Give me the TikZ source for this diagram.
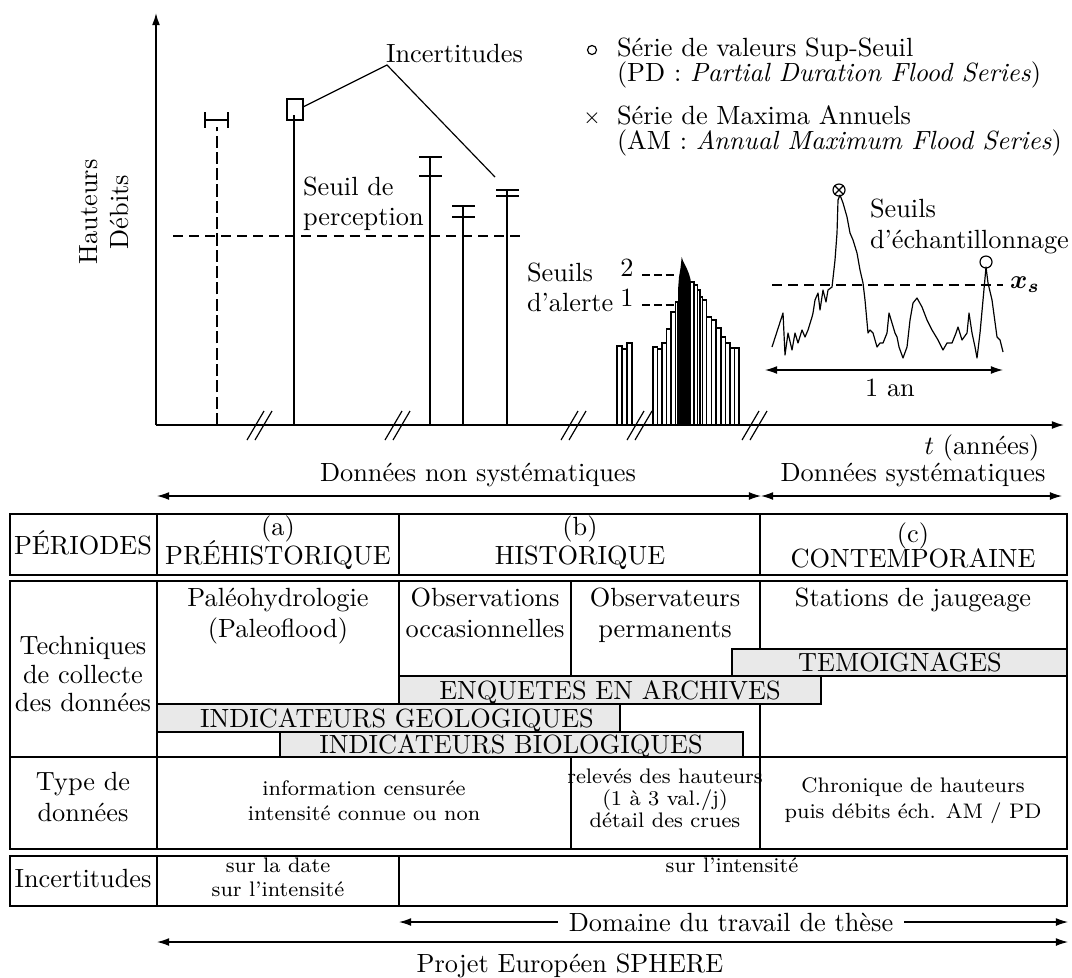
\documentclass[tikz,border=0pt]{standalone}
\usepackage{fontspec}
\usepackage{bm}
\usetikzlibrary{arrows.meta}
\begin{document}
\begin{tikzpicture}[x=0.38pt,y=-0.38pt,
  every node/.style={inner sep=0pt, outer sep=0pt},
  txt/.style={font=\fontsize{10}{12}\selectfont},
  leg/.style={font=\fontsize{10}{12}\selectfont},
  sml/.style={font=\fontsize{8}{9.5}\selectfont},
  ln/.style={line width=0.45pt},
  axis/.style={line width=0.55pt},
  perc/.style={line width=0.45pt, dash pattern=on 3.8pt off 2.3pt},
  vdash/.style={line width=0.45pt, dash pattern=on 4.6pt off 1.6pt},
  alert/.style={line width=0.45pt, dash pattern=on 3pt off 1.5pt},
  tip/.style={-{Latex[length=4.6pt,width=3pt]}},
  dtip/.style={{Latex[length=4.6pt,width=3pt]}-{Latex[length=4.6pt,width=3pt]}},
  bar/.style={draw, fill=white, line width=0.4pt},
  band/.style={draw, fill=gray!17, line width=0.5pt},
  bandlabel/.style={font=\fontsize{10}{12}\selectfont, text height=6.83pt, text depth=0pt},
  cell/.style={draw, line width=0.55pt},
  brk/.style={line width=0.45pt},
]
\useasboundingbox (0,0) rectangle (1072,977);

% ---------- alert bars ----------
\foreach \a/\b/\t in {617/622/346,622/627/349,627/632/343,
  653/657.5/347,657.5/662/349,662/666.5/343,666.5/671/329,671/675.5/312,675.5/678/302,
  690.7/694/282,694/697.3/285,697.3/700/290,700/702.7/297,702.7/706.7/300,706.7/711.7/317,
  711.7/716/320,716/721/328,721/725.3/337,725.3/730/343,730/734.7/348,734.7/739/348}
  \draw[bar] (\a,425) rectangle (\b,\t);
\fill (678,425) -- (678,290) -- (679,277) -- (680.5,268) -- (681.7,257) -- (683,261) -- (685,265)
  -- (687,269) -- (689,274) -- (690.7,280) -- (690.7,425) -- cycle;

% ---------- axes ----------
\coordinate (O) at (156,425);
\coordinate (ytop) at (156,13);
\coordinate (xend) at (1064,425);
\draw[axis,tip] (O) -- (ytop);
\draw[axis,tip] (O) -- (xend);
\foreach \c in {260,398,574,640,755} {
  \draw[brk] (\c-13,440) -- (\c+4,411);
  \draw[brk] (\c-5,440) -- (\c+12,411);
}
\node[txt,anchor=base,rotate=90] (yl1) at (97,212) {Hauteurs};
\node[txt,anchor=base,rotate=90] (yl2) at (128,212) {Débits};
\node[txt,anchor=base] (xl) at (982,454) {$t$ (années)};

% ---------- paleo / historical events ----------
\draw[vdash] (217,425) -- (217,127);
\draw[ln] (205,120) -- (228,120) (205,112) -- (205,128) (228,112) -- (228,128);
\draw[ln] (294,425) -- (294,115);
\draw[ln] (287,99) rectangle (303,120);
\draw[ln] (430,425) -- (430,157) (419,157) -- (442,157) (419,176) -- (442,176);
\draw[ln] (463,425) -- (463,206) (452,206) -- (475,206) (452,217) -- (475,217);
\draw[ln] (507,425) -- (507,190) (496,190) -- (519,190) (496,196) -- (519,196);
\draw[perc] (173,236) -- (525,236);
\node[txt,anchor=base west] (sp1) at (303,195) {Seuil de};
\node[txt,anchor=base west] (sp2) at (303,225) {perception};
\node[txt,anchor=base west] (inc) at (386,62) {Incertitudes};
\coordinate (j) at (387,65);
\coordinate (boxr) at (303,107);
\coordinate (capr) at (495,177);
\draw[ln] (boxr) -- (j) -- (capr);

% ---------- alert thresholds ----------
\node[txt,anchor=base west] (sa1) at (527,281) {Seuils};
\node[txt,anchor=base west] (sa2) at (527,311) {d'alerte};
\node[txt,anchor=base] (n2) at (627,276) {2};
\node[txt,anchor=base] (n1) at (627,306) {1};
\draw[alert] (642,275) -- (677,275);
\draw[alert] (642,305) -- (675,305);

% ---------- legend ----------
\draw[ln] (592,50) circle[radius=4.5];
\node[anchor=base] (cross) at (592,123) {\fontsize{8}{9}\selectfont$\times$};
\node[leg,anchor=base west] (l1) at (617,56) {Série de valeurs Sup-Seuil};
\node[leg,anchor=base west] (l2) at (617,81) {(PD : \textit{Partial Duration Flood Series})};
\node[leg,anchor=base west] (l3) at (617,124) {Série de Maxima Annuels};
\node[leg,anchor=base west] (l4) at (617,149) {(AM : \textit{Annual Maximum Flood Series})};

% ---------- hydrograph ----------
\draw[ln,line join=round] plot coordinates {
(772,347) (783,313) (785,355) (788,333) (792,350) (795,333) (798,343) (802,330) (805,337) (808,330)
(812,317) (813,313) (815,300) (818,293) (820,310) (823,290) (826,302) (828,290) (832,287) (835,260)
(837,233) (838,200) (840,195) (843,203) (847,217) (850,233) (853,240) (857,253) (860,270) (863,283)
(865,300) (868,333) (870,330) (873,333) (877,347) (880,343) (883,343) (887,333) (889,313) (892,323)
(895,333) (897,337) (899,347) (903,358) (907,347) (910,320) (913,303) (917,298) (922,307) (927,320)
(932,330) (938,340) (943,350) (947,343) (952,343) (956,333) (958,327) (962,340) (967,333) (969,313)
(972,333) (975,347) (977,358) (980,333) (983,300) (986,267) (988,283) (992,300) (997,337) (1000,340)
(1003,352)};
\draw[perc] (772,285) -- (1003,285);
\draw[ln] (839,190) circle[radius=6];
\draw[ln] (834.8,185.8) -- (843.2,194.2) (834.8,194.2) -- (843.2,185.8);
\draw[ln] (986,262) circle[radius=6];
\node[txt] (xs) at (1025,285) {$\bm{x_s}$};
\node[txt,anchor=base west] (se1) at (870,217) {Seuils};
\node[txt,anchor=base west] (se2) at (870,248) {d'échantillonnage};
\coordinate (ya) at (765,370);
\coordinate (yb) at (1003,370);
\draw[ln,dtip] (ya) -- (yb);
\node[txt,anchor=base] (an) at (890,396) {1 an};

% ---------- data kinds ----------
\node[txt,anchor=base] (dns) at (478,481) {Données non systématiques};
\node[txt,anchor=base] (ds) at (913,481) {Données systématiques};
\coordinate (a0) at (157,496);
\coordinate (a1) at (761,496);
\coordinate (a2) at (1062,496);
\draw[ln,dtip] (a0) -- (a1);
\draw[ln,dtip] (a1) -- (a2);

% ---------- table row 1 ----------
\draw[cell] (10,514) rectangle (1067,575);
\draw[cell] (157,514) -- (157,575) (399,514) -- (399,575) (760,514) -- (760,575);
\node[txt,anchor=base] (per) at (83,554) {PÉRIODES};
\node[txt,anchor=base] (pa) at (278,535) {(a)};
\node[txt,anchor=base] (pa2) at (278,564) {PRÉHISTORIQUE};
\node[txt,anchor=base] (pb) at (580,535) {(b)};
\node[txt,anchor=base] (pb2) at (580,564) {HISTORIQUE};
\node[txt,anchor=base] (pc) at (913,542) {(c)};
\node[txt,anchor=base] (pc2) at (913,567) {CONTEMPORAINE};

% ---------- table row 2 ----------
\draw[cell] (10,581) rectangle (1067,757);
\draw[cell] (157,581) -- (157,757) (399,581) -- (399,676) (571,581) -- (571,676) (760,581) -- (760,757);
\node[txt,anchor=base] (tc1) at (83,654) {Techniques};
\node[txt,anchor=base] (tc2) at (83,683) {de collecte};
\node[txt,anchor=base] (tc3) at (83,711) {des données};
\node[txt,anchor=base] (pal1) at (278,606) {Paléohydrologie};
\node[txt,anchor=base] (pal2) at (278,637) {(Paleoflood)};
\node[txt,anchor=base] (oc1) at (485,606) {Observations};
\node[txt,anchor=base] (oc2) at (485,637) {occasionnelles};
\node[txt,anchor=base] (op1) at (665,606) {Observateurs};
\node[txt,anchor=base] (op2) at (665,637) {permanents};
\node[txt,anchor=base] (st) at (913,606) {Stations de jaugeage};
\draw[band] (732,649) rectangle (1067,676);
\node[bandlabel] (tem) at (900,662.5) {TEMOIGNAGES};
\draw[band] (399,676) rectangle (821,704);
\node[bandlabel] (enq) at (610,690) {ENQUETES EN ARCHIVES};
\draw[band] (157,704) rectangle (620,732);
\node[bandlabel] (geo) at (397,718) {INDICATEURS GEOLOGIQUES};
\draw[band] (280,732) rectangle (743,757);
\node[bandlabel] (bio) at (511,744.5) {INDICATEURS BIOLOGIQUES};

% ---------- table row 3 ----------
\draw[cell] (10,757) rectangle (1067,849);
\draw[cell] (157,757) -- (157,849) (571,757) -- (571,849) (760,757) -- (760,849);
\node[txt,anchor=base] (ty1) at (83,790) {Type de};
\node[txt,anchor=base] (ty2) at (83,821) {données};
\node[sml,anchor=base] (ic1) at (364,795) {information censurée};
\node[sml,anchor=base] (ic2) at (364,820) {intensité connue ou non};
\node[sml,anchor=base] (rh1) at (665,783) {relevés des hauteurs};
\node[sml,anchor=base] (rh2) at (665,805) {(1 à 3 val./j)};
\node[sml,anchor=base] (rh3) at (665,827) {détail des crues};
\node[sml,anchor=base] (ch1) at (913,792) {Chronique de hauteurs};
\node[sml,anchor=base] (ch2) at (913,818) {puis débits éch. AM / PD};

% ---------- table row 4 ----------
\draw[cell] (10,856) rectangle (1067,906);
\draw[cell] (157,856) -- (157,906) (399,856) -- (399,906);
\node[txt,anchor=base] (inc2) at (83,887) {Incertitudes};
\node[sml,anchor=base] (sd1) at (278,872) {sur la date};
\node[sml,anchor=base] (sd2) at (278,896) {sur l'intensité};
\node[sml,anchor=base] (si) at (732,872) {sur l'intensité};

% ---------- scope arrows ----------
\coordinate (d0) at (399,922);
\coordinate (d1) at (1068,922);
\draw[ln,dtip] (d0) -- (d1);
\node[txt,fill=white,inner xsep=4pt,inner ysep=1pt] (dom) at (731,922) {Domaine du travail de thèse};
\coordinate (p0) at (157,942);
\coordinate (p1) at (1068,942);
\draw[ln,dtip] (p0) -- (p1);
\node[txt,anchor=base] (proj) at (570,972) {Projet Européen SPHERE};
\end{tikzpicture}
\end{document}
